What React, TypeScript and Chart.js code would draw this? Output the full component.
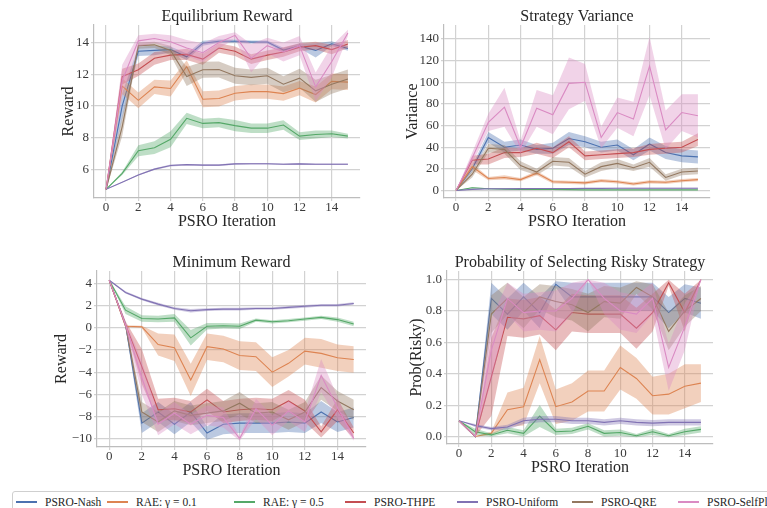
import React, { useEffect, useRef } from "react";
import { Chart, registerables } from "chart.js";
Chart.register(...registerables);

const FONT = "'Liberation Serif', 'DejaVu Serif', serif";

const ITERS = [0, 1, 2, 3, 4, 5, 6, 7, 8, 9, 10, 11, 12, 13, 14, 15];
const X_TICKS = [0, 2, 4, 6, 8, 10, 12, 14];
const SERIES = ["PSRO-Nash", "RAE: \u03b3 = 0.1", "RAE: \u03b3 = 0.5", "PSRO-THPE", "PSRO-Uniform", "PSRO-QRE", "PSRO-SelfPlay"];
const COLORS = ["#4c72b0", "#dd8452", "#55a868", "#c44e52", "#8172b3", "#937860", "#da8bc3"];
const LEGEND_TEXT_X = [44, 135, 262, 373, 485, 600, 706];

// ---- Equilibrium Reward ----
const EQ_TICKS = [6, 8, 10, 12, 14];
const EQ_NASH = [4.75, 10.0, 13.45, 13.5, 13.55, 13.1, 13.95, 14.08, 14.08, 14.03, 14.03, 13.52, 13.78, 13.5, 13.92, 13.62];
const EQ_NASH_SD = [0.05, 0.8, 0.3, 0.3, 0.2, 0.2, 0.15, 0.1, 0.1, 0.1, 0.1, 0.15, 0.15, 0.45, 0.15, 0.15];
const EQ_RAE1 = [4.75, 11.25, 10.35, 11.2, 11.1, 12.48, 10.42, 10.47, 10.8, 10.9, 10.9, 10.78, 11.12, 10.72, 11.55, 11.5];
const EQ_RAE1_SD = [0.05, 0.5, 0.5, 0.45, 0.5, 0.4, 0.5, 0.5, 0.45, 0.45, 0.45, 0.45, 0.45, 0.5, 0.5, 0.5];
const EQ_RAE5 = [4.75, 5.75, 7.18, 7.37, 7.9, 9.22, 8.9, 8.95, 8.76, 8.6, 8.6, 8.8, 8.1, 8.2, 8.25, 8.1];
const EQ_RAE5_SD = [0.02, 0.1, 0.35, 0.4, 0.5, 0.35, 0.3, 0.3, 0.35, 0.3, 0.3, 0.3, 0.25, 0.25, 0.2, 0.15];
const EQ_THPE = [4.75, 11.85, 12.28, 13.0, 13.2, 13.25, 12.95, 13.65, 13.45, 12.95, 13.2, 13.4, 13.7, 13.8, 13.55, 13.9];
const EQ_THPE_SD = [0.05, 0.5, 0.4, 0.4, 0.3, 0.35, 0.35, 0.3, 0.3, 0.3, 0.3, 0.3, 0.25, 0.25, 0.3, 0.25];
const EQ_UNI = [4.75, 5.2, 5.65, 6.02, 6.25, 6.3, 6.27, 6.27, 6.35, 6.36, 6.36, 6.33, 6.35, 6.33, 6.33, 6.33];
const EQ_UNI_SD = [0.02, 0.03, 0.04, 0.05, 0.06, 0.05, 0.05, 0.05, 0.05, 0.05, 0.05, 0.05, 0.05, 0.05, 0.05, 0.05];
const EQ_QRE = [4.75, 8.7, 13.8, 13.85, 13.5, 11.85, 12.28, 12.3, 11.9, 11.8, 11.9, 11.37, 11.75, 10.95, 11.37, 11.7];
const EQ_QRE_SD = [0.05, 0.6, 0.2, 0.2, 0.3, 0.6, 0.5, 0.5, 0.5, 0.5, 0.5, 0.5, 0.6, 0.7, 0.6, 0.6];
const EQ_SELF = [4.75, 11.6, 14.1, 14.25, 14.05, 13.65, 13.35, 14.0, 14.45, 13.0, 13.8, 13.4, 13.8, 11.2, 12.8, 14.6];
const EQ_SELF_SD = [0.05, 1.0, 0.35, 0.3, 0.4, 0.5, 0.6, 0.4, 0.2, 0.9, 0.5, 0.6, 0.6, 0.9, 1.0, 0.2];

// ---- Strategy Variance ----
const VAR_TICKS = [0, 20, 40, 60, 80, 100, 120, 140];
const VAR_NASH = [0, 20, 49, 40, 42, 38, 39, 48, 45, 40, 42, 33, 43, 35, 32, 31];
const VAR_NASH_SD = [0, 3, 5, 5, 5, 4, 5, 6, 5, 5, 5, 5, 6, 6, 6, 6];
const VAR_RAE1 = [0, 22, 11, 12, 10, 16, 8, 7.5, 7, 9, 8, 6, 8, 7.5, 9, 10];
const VAR_RAE1_SD = [0, 3, 1.5, 2, 1.5, 2, 1.5, 1.5, 1.5, 1.5, 1.5, 1.5, 1.5, 1.5, 1.5, 1.5];
const VAR_RAE5 = [0, 2.5, 1.5, 1.2, 1.0, 0.9, 0.8, 0.7, 0.5, 0.5, 0.5, 0.5, 0.5, 0.5, 0.5, 0.5];
const VAR_RAE5_SD = [0, 0.5, 0.5, 0.4, 0.3, 0.3, 0.3, 0.3, 0.2, 0.2, 0.2, 0.2, 0.2, 0.2, 0.2, 0.2];
const VAR_THPE = [0, 28, 29, 35, 35, 39, 35, 45, 32, 33, 34, 35, 38, 39, 40, 47];
const VAR_THPE_SD = [0, 4, 5, 5, 4, 5, 5, 5, 4, 4, 4, 4, 5, 5, 5, 6];
const VAR_UNI = [0, 1, 1.5, 1.6, 1.7, 1.8, 1.8, 1.8, 1.9, 1.9, 2, 2, 2, 2, 2, 2];
const VAR_UNI_SD = [0, 0.3, 0.4, 0.4, 0.4, 0.4, 0.4, 0.4, 0.4, 0.4, 0.4, 0.4, 0.4, 0.4, 0.4, 0.4];
const VAR_QRE = [0, 15, 39, 38, 23, 17, 27, 26, 15, 22, 25, 21, 26, 12, 17, 18];
const VAR_QRE_SD = [0, 3, 4, 4, 4, 3, 4, 4, 3, 4, 4, 3, 4, 3, 3, 3];
const VAR_SELF = [0, 30, 63, 77, 40, 76, 70, 99, 100, 49, 72, 66, 115, 56, 72, 69];
const VAR_SELF_SD = [0, 5, 8, 18, 6, 17, 18, 24, 17, 10, 14, 16, 27, 18, 17, 20];

// ---- Minimum Reward ----
const MIN_TICKS = [-10, -8, -6, -4, -2, 0, 2, 4];
const MIN_NASH = [4.3, 0.3, -8.6, -7.6, -8.7, -7.6, -9.5, -8.7, -8.6, -8.6, -8.6, -8.5, -8.6, -7.6, -8.5, -8.1];
const MIN_NASH_SD = [0.05, 0.2, 0.9, 0.9, 0.9, 0.9, 0.6, 0.9, 0.9, 0.9, 0.9, 0.9, 0.9, 1.0, 0.9, 0.9];
const MIN_RAE1 = [4.3, 0.15, 0.1, -1.5, -1.8, -4.7, -1.7, -1.9, -2.5, -2.6, -4.0, -3.2, -2.1, -2.3, -2.7, -2.85];
const MIN_RAE1_SD = [0.05, 0.1, 0.1, 1.0, 1.2, 1.45, 1.2, 1.2, 1.3, 1.3, 1.35, 1.2, 1.2, 1.3, 1.2, 1.2];
const MIN_RAE5 = [4.3, 1.6, 0.85, 0.8, 0.9, -0.9, 0.15, 0.2, 0.15, 0.7, 0.55, 0.65, 0.8, 0.95, 0.75, 0.35];
const MIN_RAE5_SD = [0.05, 0.35, 0.3, 0.3, 0.35, 0.7, 0.3, 0.25, 0.25, 0.15, 0.15, 0.15, 0.15, 0.15, 0.2, 0.2];
const MIN_THPE = [4.3, 0.3, -3.5, -7.4, -7.3, -7.6, -6.5, -7.6, -7.4, -7.3, -7.4, -6.6, -7.5, -9.4, -7.4, -9.5];
const MIN_THPE_SD = [0.05, 0.3, 1.6, 1.0, 1.0, 1.0, 1.0, 1.0, 1.0, 1.0, 1.0, 1.0, 1.0, 0.5, 1.0, 0.5];
const MIN_UNI = [4.3, 3.2, 2.6, 2.15, 1.75, 1.55, 1.65, 1.7, 1.7, 1.75, 1.75, 1.85, 1.95, 2.05, 2.05, 2.2];
const MIN_UNI_SD = [0.05, 0.1, 0.1, 0.12, 0.12, 0.15, 0.12, 0.12, 0.12, 0.12, 0.12, 0.12, 0.12, 0.12, 0.12, 0.12];
const MIN_QRE = [4.3, 0.3, -7.6, -8.5, -7.5, -7.9, -7.7, -7.5, -6.8, -7.7, -7.6, -8.3, -7.6, -5.4, -6.6, -7.4];
const MIN_QRE_SD = [0.05, 0.3, 0.9, 0.9, 0.9, 0.9, 0.9, 0.9, 1.0, 0.9, 0.9, 0.9, 0.9, 1.1, 0.9, 0.9];
const MIN_SELF = [4.3, 0.3, -4.5, -8.7, -7.7, -8.7, -7.9, -8.1, -10.0, -7.3, -8.8, -7.5, -8.5, -4.3, -7.2, -10.0];
const MIN_SELF_SD = [0.05, 0.3, 1.5, 1.0, 1.0, 0.9, 0.9, 0.9, 0.2, 0.9, 0.9, 0.9, 0.9, 1.5, 1.0, 0.2];

// ---- Probability of Selecting Risky Strategy ----
const PR_TICKS = [0, 0.2, 0.4, 0.6, 0.8, 1.0];
const PR_NASH = [0.1, 0.0, 0.88, 0.78, 0.89, 0.79, 0.97, 0.89, 0.89, 0.89, 0.89, 0.89, 0.89, 0.79, 0.88, 0.85];
const PR_NASH_SD = [0, 0, 0.1, 0.1, 0.09, 0.1, 0.02, 0.09, 0.09, 0.09, 0.09, 0.09, 0.09, 0.1, 0.09, 0.1];
const PR_RAE1 = [0.1, 0.0, 0.02, 0.17, 0.19, 0.49, 0.19, 0.22, 0.29, 0.29, 0.44, 0.37, 0.26, 0.27, 0.32, 0.34];
const PR_RAE1_SD = [0, 0, 0.01, 0.11, 0.12, 0.15, 0.11, 0.12, 0.13, 0.13, 0.14, 0.13, 0.12, 0.13, 0.14, 0.12];
const PR_RAE5 = [0.1, 0.03, 0.01, 0.04, 0.02, 0.13, 0.03, 0.035, 0.065, 0.02, 0.025, 0.005, 0.03, 0.005, 0.03, 0.045];
const PR_RAE5_SD = [0, 0.02, 0.01, 0.02, 0.02, 0.07, 0.02, 0.02, 0.02, 0.02, 0.02, 0.01, 0.02, 0.01, 0.02, 0.02];
const PR_THPE = [0.1, 0.0, 0.38, 0.76, 0.75, 0.77, 0.68, 0.79, 0.78, 0.78, 0.78, 0.69, 0.79, 0.98, 0.79, 1.0];
const PR_THPE_SD = [0, 0, 0.25, 0.12, 0.12, 0.12, 0.13, 0.12, 0.12, 0.12, 0.12, 0.13, 0.12, 0.02, 0.12, 0.0];
const PR_UNI = [0.1, 0.07, 0.05, 0.06, 0.1, 0.11, 0.11, 0.1, 0.1, 0.09, 0.1, 0.09, 0.085, 0.09, 0.09, 0.09];
const PR_UNI_SD = [0, 0.01, 0.01, 0.015, 0.02, 0.02, 0.02, 0.02, 0.02, 0.02, 0.02, 0.02, 0.02, 0.02, 0.02, 0.02];
const PR_QRE = [0.1, 0.0, 0.78, 0.88, 0.79, 0.89, 0.86, 0.84, 0.79, 0.86, 0.85, 0.95, 0.89, 0.67, 0.8, 0.88];
const PR_QRE_SD = [0, 0, 0.12, 0.1, 0.1, 0.08, 0.1, 0.1, 0.12, 0.1, 0.1, 0.04, 0.08, 0.12, 0.1, 0.08];
const PR_SELF = [0.1, 0.0, 0.55, 0.88, 0.79, 0.8, 0.8, 0.88, 1.0, 0.88, 0.8, 0.78, 0.88, 0.44, 0.7, 1.0];
const PR_SELF_SD = [0, 0, 0.2, 0.1, 0.12, 0.12, 0.13, 0.1, 0.0, 0.1, 0.12, 0.12, 0.1, 0.15, 0.15, 0.0];

type PanelCfg = {
  title: string;
  ylabel: string;
  yMin: number;
  yMax: number;
  yTicks: number[];
  fmt: (v: number) => string;
  means: number[][];
  sds: number[][];
  L: number; R: number; T: number; B: number;
  ylabelCenter: number;
};

const Y_W = 70;
const PAD_R = 10;
const TOP_H = 25;
const X_H = 32;

const intFmt = (v: number) => (v < 0 ? "\u2212" + Math.abs(v) : String(v));

const PANELS: PanelCfg[] = [
  {
    title: "Equilibrium Reward", ylabel: "Reward", yMin: 4.2, yMax: 15.1, yTicks: EQ_TICKS, fmt: intFmt,
    means: [EQ_NASH, EQ_RAE1, EQ_RAE5, EQ_THPE, EQ_UNI, EQ_QRE, EQ_SELF],
    sds: [EQ_NASH_SD, EQ_RAE1_SD, EQ_RAE5_SD, EQ_THPE_SD, EQ_UNI_SD, EQ_QRE_SD, EQ_SELF_SD],
    L: 94, R: 360, T: 25, B: 198, ylabelCenter: 69,
  },
  {
    title: "Strategy Variance", ylabel: "Variance", yMin: -7, yMax: 153, yTicks: VAR_TICKS, fmt: intFmt,
    means: [VAR_NASH, VAR_RAE1, VAR_RAE5, VAR_THPE, VAR_UNI, VAR_QRE, VAR_SELF],
    sds: [VAR_NASH_SD, VAR_RAE1_SD, VAR_RAE5_SD, VAR_THPE_SD, VAR_UNI_SD, VAR_QRE_SD, VAR_SELF_SD],
    L: 444, R: 710, T: 25, B: 198, ylabelCenter: 413,
  },
  {
    title: "Minimum Reward", ylabel: "Reward", yMin: -10.76, yMax: 5.14, yTicks: MIN_TICKS, fmt: intFmt,
    means: [MIN_NASH, MIN_RAE1, MIN_RAE5, MIN_THPE, MIN_UNI, MIN_QRE, MIN_SELF],
    sds: [MIN_NASH_SD, MIN_RAE1_SD, MIN_RAE5_SD, MIN_THPE_SD, MIN_UNI_SD, MIN_QRE_SD, MIN_SELF_SD],
    L: 97, R: 366, T: 271, B: 447, ylabelCenter: 62,
  },
  {
    title: "Probability of Selecting Risky Strategy", ylabel: "Prob(Risky)", yMin: -0.048, yMax: 1.055, yTicks: PR_TICKS,
    fmt: (v: number) => v.toFixed(1),
    means: [PR_NASH, PR_RAE1, PR_RAE5, PR_THPE, PR_UNI, PR_QRE, PR_SELF],
    sds: [PR_NASH_SD, PR_RAE1_SD, PR_RAE5_SD, PR_THPE_SD, PR_UNI_SD, PR_QRE_SD, PR_SELF_SD],
    L: 447, R: 713, T: 271, B: 444, ylabelCenter: 417,
  },
];

function hexToRgba(hex: string, a: number) {
  const n = parseInt(hex.slice(1), 16);
  return `rgba(${(n >> 16) & 255}, ${(n >> 8) & 255}, ${n & 255}, ${a})`;
}

// Title centred over the plotting area (as matplotlib does), drawn as canvas text.
const axesTitlePlugin = {
  id: "axesTitle",
  afterDraw(chart: any, _args: any, opts: any) {
    const { ctx, chartArea } = chart;
    ctx.save();
    ctx.font = `16px ${FONT}`;
    ctx.fillStyle = "#262626";
    ctx.textAlign = "center";
    ctx.textBaseline = "middle";
    ctx.fillText(opts.text, (chartArea.left + chartArea.right) / 2, chartArea.top - 8);
    ctx.restore();
  },
};

function Panel({ cfg }: { cfg: PanelCfg }) {
  const ref = useRef<HTMLCanvasElement | null>(null);
  const left = cfg.L - Y_W;
  const top = cfg.T - TOP_H;
  const width = Y_W + (cfg.R - cfg.L) + PAD_R;
  const height = TOP_H + (cfg.B - cfg.T) + X_H;

  useEffect(() => {
    if (!ref.current) return;
    const datasets: any[] = [];
    cfg.means.forEach((mean, i) => {
      const sd = cfg.sds[i];
      const base = 1000 - i * 10;
      datasets.push({
        data: ITERS.map((x, k) => ({ x, y: mean[k] - sd[k] })),
        borderWidth: 0, pointRadius: 0, fill: false, order: base, borderColor: "rgba(0,0,0,0)",
      });
      datasets.push({
        data: ITERS.map((x, k) => ({ x, y: mean[k] + sd[k] })),
        borderWidth: 0, pointRadius: 0, fill: "-1", order: base,
        borderColor: "rgba(0,0,0,0)", backgroundColor: hexToRgba(COLORS[i], 0.38),
      });
      datasets.push({
        data: ITERS.map((x, k) => ({ x, y: mean[k] })),
        borderWidth: 1.1, pointRadius: 0, fill: false, order: base - 5,
        borderColor: COLORS[i],
      });
    });

    const tickFont = { family: FONT, size: 13, lineHeight: 1, weight: "normal" };
    const titleFont = { family: FONT, size: 16, lineHeight: 1, weight: "normal" };
    const gridColor = "#d2d2d2";
    const yPadTop = cfg.ylabelCenter - left - 8;

    const chart = new Chart(ref.current, {
      type: "line",
      data: { datasets },
      plugins: [axesTitlePlugin],
      options: {
        animation: false,
        responsive: false,
        devicePixelRatio: 1,
        layout: { padding: { top: TOP_H, right: PAD_R, left: 0, bottom: 0 } },
        elements: { line: { tension: 0 } },
        plugins: {
          legend: { display: false },
          tooltip: { enabled: false },
          title: { display: false },
          axesTitle: { text: cfg.title },
        },
        scales: {
          x: {
            type: "linear", min: -0.75, max: 15.75,
            afterBuildTicks: (s: any) => { s.ticks = X_TICKS.map((v) => ({ value: v })); },
            afterFit: (s: any) => { s.height = X_H; },
            ticks: { font: tickFont, color: "#3a3a3a", padding: 0, maxRotation: 0, autoSkip: false, callback: (v: any) => String(v) },
            grid: { color: gridColor, lineWidth: 1.2, tickLength: 3, drawTicks: true },
            border: { display: true, color: "#bdbdbd", width: 1.2 },
            title: { display: true, text: "PSRO Iteration", font: titleFont, color: "#262626", padding: { top: 0, bottom: 0 } },
          },
          y: {
            type: "linear", min: cfg.yMin, max: cfg.yMax,
            afterBuildTicks: (s: any) => { s.ticks = cfg.yTicks.map((v) => ({ value: v })); },
            afterFit: (s: any) => { s.width = Y_W; },
            ticks: { font: tickFont, color: "#3a3a3a", padding: 2, autoSkip: false, callback: (v: any) => cfg.fmt(Number(v)) },
            grid: { color: gridColor, lineWidth: 1.2, tickLength: 3, drawTicks: true },
            border: { display: true, color: "#bdbdbd", width: 1.2 },
            title: { display: true, text: cfg.ylabel, font: titleFont, color: "#262626", padding: { top: yPadTop, bottom: 0 } },
          },
        },
      } as any,
    });
    return () => chart.destroy();
  }, []);

  return (
    <div style={{ position: "absolute", left, top, width, height }}>
      <canvas ref={ref} width={width} height={height} style={{ width, height, display: "block" }} />
    </div>
  );
}

function Legend() {
  return (
    <div
      style={{
        position: "absolute", left: 12, top: 491, width: 800, height: 24,
        border: "1px solid #cfcfcf", borderRadius: 3, boxSizing: "border-box", background: "#fff",
      }}
    >
      {SERIES.map((name, i) => {
        const tx = LEGEND_TEXT_X[i] - 12;
        return (
          <React.Fragment key={name}>
            <div style={{ position: "absolute", left: tx - 29, top: 9, width: 21, height: 1.5, background: COLORS[i] }} />
            <div
              style={{
                position: "absolute", left: tx, top: 2, whiteSpace: "nowrap",
                fontFamily: FONT, fontSize: 11.5, fontWeight: 400, lineHeight: "16px", color: "#262626",
              }}
            >
              {name}
            </div>
          </React.Fragment>
        );
      })}
    </div>
  );
}

export default function App() {
  return (
    <div style={{ position: "absolute", left: 0, top: 0, width: 767, height: 508, overflow: "hidden", background: "#fff" }}>
      {PANELS.map((p) => (
        <Panel key={p.title} cfg={p} />
      ))}
      <Legend />
    </div>
  );
}
